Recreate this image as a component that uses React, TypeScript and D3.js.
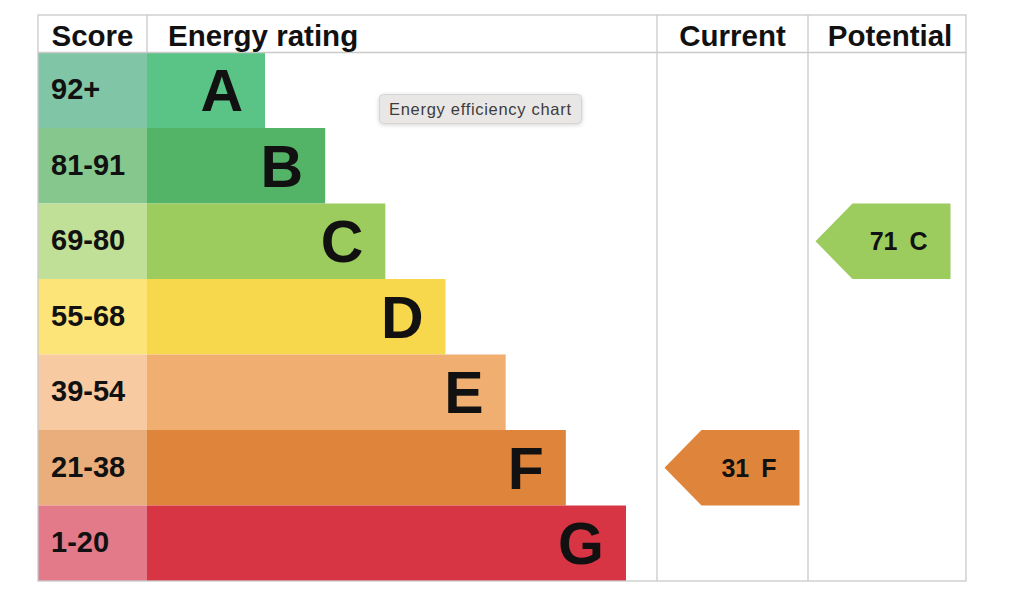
import React from 'react';
import * as d3 from 'd3';

const bands = ['A', 'B', 'C', 'D', 'E', 'F', 'G'];
const scoreRanges = ['92+', '81-91', '69-80', '55-68', '39-54', '21-38', '1-20'];
const bandMins = [92, 81, 69, 55, 39, 21, 1];
const barColors = ['#5ac486', '#53b366', '#9ccc5d', '#f7d74b', '#f0ae71', '#df843b', '#d73444'];
const scoreColors = ['#80c6a6', '#86c78e', '#bfe096', '#fde478', '#f7caa2', '#e9ae7b', '#e27a8a'];
const columns = ['Score', 'Energy rating', 'Current', 'Potential'];
const currentScore = 31;
const potentialScore = 71;
const tooltipText = 'Energy efficiency chart';

const W = 1024;
const H = 597;
const top = 15;
const headerBottom = 52.5;
const bottom = 581;
const colX = [38, 147, 657, 808, 966];
const font = '"Liberation Sans", Arial, Helvetica, sans-serif';
const lineColor = '#c9c9c9';

const bandFor = (score: number) => bandMins.findIndex(m => score >= m);

const App: React.FC = () => {
  const y = d3.scaleBand<string>().domain(bands).range([headerBottom, bottom]).padding(0);
  const barEnd = d3.scaleLinear().domain([0, bands.length - 1]).range([265, 626]);

  const arrow = (score: number, col: number) => {
    const i = bandFor(score);
    const band = bands[i];
    const y0 = y(band) || 0;
    const h = y.bandwidth();
    const x0 = colX[col] + 7.5;
    const x1 = x0 + 135;
    const tip = 37;
    const path = d3.path();
    path.moveTo(x0, y0 + h / 2);
    path.lineTo(x0 + tip, y0);
    path.lineTo(x1, y0);
    path.lineTo(x1, y0 + h);
    path.lineTo(x0 + tip, y0 + h);
    path.closePath();
    return (
      <g key={col}>
        <path d={path.toString()} fill={barColors[i]} />
        <text x={x1 - 23} y={y0 + h / 2 + 9} textAnchor="end" fontFamily={font} fontWeight="bold" fontSize={25} fill="#111">
          {score}
          <tspan dx={12}>{band}</tspan>
        </text>
      </g>
    );
  };

  return (
    <svg width={W} height={H} style={{ position: 'absolute', left: 0, top: 0, background: '#fff' }}>
      <defs>
        <filter id="shadow" x="-20%" y="-50%" width="140%" height="200%">
          <feDropShadow dx="0" dy="1" stdDeviation="2" floodColor="#000" floodOpacity="0.18" />
        </filter>
      </defs>

      {/* rows */}
      {bands.map((b, i) => (
        <g key={b}>
          <rect x={colX[0]} y={y(b)} width={colX[1] - colX[0]} height={y.bandwidth()} fill={scoreColors[i]} />
          <rect x={colX[1]} y={y(b)} width={barEnd(i) - colX[1]} height={y.bandwidth()} fill={barColors[i]} />
          <text x={colX[0] + 13} y={(y(b) || 0) + y.bandwidth() / 2 + 9} fontFamily={font} fontWeight="bold" fontSize={29} fill="#111">
            {scoreRanges[i]}
          </text>
          <text x={barEnd(i) - 22} y={(y(b) || 0) + y.bandwidth() / 2 + 21} textAnchor="end" fontFamily={font} fontWeight="bold" fontSize={59} fill="#111">
            {b}
          </text>
        </g>
      ))}

      {/* grid lines */}
      <g stroke={lineColor} strokeWidth={1.3} fill="none">
        <rect x={colX[0]} y={top} width={colX[4] - colX[0]} height={bottom - top} />
        <line x1={colX[0]} x2={colX[4]} y1={headerBottom} y2={headerBottom} />
        <line x1={colX[1]} x2={colX[1]} y1={top} y2={headerBottom} />
        <line x1={colX[2]} x2={colX[2]} y1={top} y2={bottom} />
        <line x1={colX[3]} x2={colX[3]} y1={top} y2={bottom} />
      </g>

      {/* headers */}
      {columns.map((c, i) => (
        <text
          key={c}
          x={i === 1 ? colX[1] + 21 : (colX[i] + colX[i + 1]) / 2 + (i === 3 ? 3 : 0)}
          y={46}
          textAnchor={i === 1 ? 'start' : 'middle'}
          fontFamily={font}
          fontWeight="bold"
          fontSize={29.5}
          fill="#111"
        >
          {c}
        </text>
      ))}

      {arrow(currentScore, 2)}
      {arrow(potentialScore, 3)}

      {/* tooltip */}
      <g filter="url(#shadow)">
        <rect x={379.5} y={94.5} width={202} height={29} rx={4} fill="#e9e7e6" stroke="#d6d4d3" />
      </g>
      <text x={389} y={114.5} fontFamily={font} fontSize={16.5} letterSpacing={0.7} fill="#3c3c3c">
        {tooltipText}
      </text>
    </svg>
  );
};

export default App;
